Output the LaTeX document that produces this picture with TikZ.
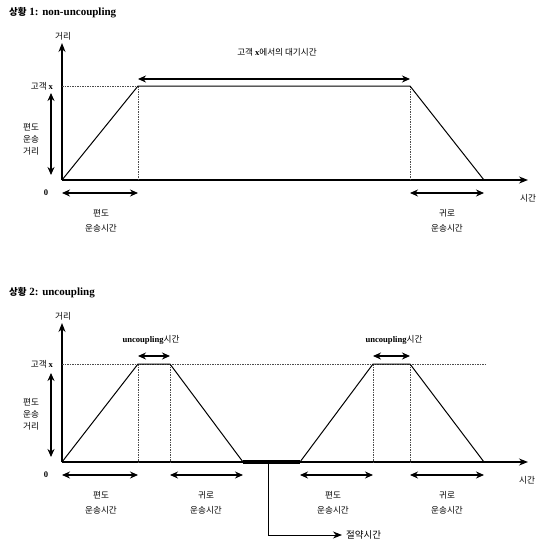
\documentclass[tikz,border=0pt]{standalone}
\usepackage{fontspec}
\setmainfont{Liberation Serif}
\newfontfamily\kr{Noto Sans CJK KR}
\usetikzlibrary{arrows.meta}
\begin{document}
\begin{tikzpicture}[x=1pt,y=-1pt,
  axis/.style={line width=1.3pt,-{Stealth[length=9pt,width=7pt]}},
  curve/.style={line width=1pt},
  guide/.style={line width=0.4pt, black!70, dash pattern=on 1.5pt off 1pt},
  dim/.style={line width=1.1pt,{Stealth[length=8pt,width=7pt]}-{Stealth[length=8pt,width=7pt]}},
  lbl/.style={font=\kr\fontsize{8.6}{12}\selectfont, inner sep=0pt, align=center},
  lbl2/.style={font=\kr\fontsize{8.6}{15}\selectfont, inner sep=0pt, align=center},
  ttl/.style={font=\fontsize{11}{12}\selectfont\bfseries, inner sep=0pt, anchor=west},
  bar/.style={line width=4pt},
  pointer/.style={line width=0.8pt,-{Stealth[length=9pt,width=7pt]}}]
\useasboundingbox (0,0) rectangle (544,544);

% ---------- Chart 1 ----------
\node[ttl] (t1) at (9,13) {{\kr\fontsize{9.5}{12}\selectfont 상황} 1: non-uncoupling};
\coordinate (o1) at (62,180);
\coordinate (ytip1) at (62,43);
\coordinate (xtip1) at (528,180);
\coordinate (p1) at (138,86);
\coordinate (q1) at (410,86);
\coordinate (r1) at (484,180);
\coordinate (yx1) at (62,86);
\coordinate (pb1) at (138,180);
\coordinate (qb1) at (410,180);
\draw[axis] (o1) -- (ytip1);
\draw[axis] (o1) -- (xtip1);
\draw[guide] (yx1) -- (p1);
\draw[guide] (p1) -- (pb1);
\draw[guide] (q1) -- (qb1);
\draw[curve] (o1) -- (p1) -- (q1) -- (r1);
\node[lbl] (d1) at (63,36) {거리};
\node[lbl] (cx1) at (42,86) {고객 {\rmfamily\bfseries x}};
\node[lbl] (z1) at (46,193) {\rmfamily\bfseries 0};
\node[lbl] (tm1) at (528,198) {시간};
\coordinate (wa1) at (138,79);
\coordinate (wb1) at (410,79);
\draw[dim] (wa1) -- (wb1);
\node[lbl] (w1) at (277,52) {고객 {\rmfamily\bfseries x}에서의 대기시간};
\coordinate (la1) at (51,93);
\coordinate (lb1) at (51,175);
\draw[dim] (la1) -- (lb1);
\node[lbl] (ld1) at (31,139) {편도\\운송\\거리};
\coordinate (ba1) at (62,193);
\coordinate (bb1) at (138,193);
\coordinate (bc1) at (410,193);
\coordinate (bd1) at (484,193);
\draw[dim] (ba1) -- (bb1);
\draw[dim] (bc1) -- (bd1);
\node[lbl2] (bl1) at (101,221) {편도\\운송시간};
\node[lbl2] (bl2) at (447,221) {귀로\\운송시간};

% ---------- Chart 2 ----------
\node[ttl] (t2) at (9,293) {{\kr\fontsize{9.5}{12}\selectfont 상황} 2: uncoupling};
\coordinate (o2) at (62,462);
\coordinate (ytip2) at (62,323);
\coordinate (xtip2) at (528,462);
\coordinate (a2) at (138,364);
\coordinate (b2) at (170,364);
\coordinate (c2) at (243,462);
\coordinate (d2) at (300,462);
\coordinate (e2) at (373,364);
\coordinate (f2) at (410,364);
\coordinate (g2) at (484,462);
\coordinate (yx2) at (62,364);
\coordinate (hx2) at (486,364);
\draw[axis] (o2) -- (ytip2);
\draw[axis] (o2) -- (xtip2);
\draw[guide] (yx2) -- (hx2);
\draw[guide] (a2) -- (138,462);
\draw[guide] (b2) -- (170,462);
\draw[guide] (e2) -- (373,462);
\draw[guide] (f2) -- (410,462);
\draw[curve] (o2) -- (a2) -- (b2) -- (c2);
\draw[curve] (d2) -- (e2) -- (f2) -- (g2);
\draw[bar] (c2) -- (d2);
\node[lbl] (dd2) at (63,316) {거리};
\node[lbl] (cx2) at (42,364) {고객 {\rmfamily\bfseries x}};
\node[lbl] (z2) at (46,475) {\rmfamily\bfseries 0};
\node[lbl] (tm2) at (527,480) {시간};
\coordinate (ua1) at (138,356);
\coordinate (ub1) at (170,356);
\coordinate (ua2) at (373,356);
\coordinate (ub2) at (410,356);
\draw[dim] (ua1) -- (ub1);
\draw[dim] (ua2) -- (ub2);
\node[lbl] (u1) at (151,340) {{\rmfamily\bfseries uncoupling}시간};
\node[lbl] (u2) at (394,340) {{\rmfamily\bfseries uncoupling}시간};
\coordinate (la2) at (51,373);
\coordinate (lb2) at (51,457);
\draw[dim] (la2) -- (lb2);
\node[lbl] (ld2) at (31,414) {편도\\운송\\거리};
\coordinate (m1) at (62,475);
\coordinate (m2) at (138,475);
\coordinate (m3) at (170,475);
\coordinate (m4) at (243,475);
\coordinate (m5) at (300,475);
\coordinate (m6) at (373,475);
\coordinate (m7) at (410,475);
\coordinate (m8) at (484,475);
\draw[dim] (m1) -- (m2);
\draw[dim] (m3) -- (m4);
\draw[dim] (m5) -- (m6);
\draw[dim] (m7) -- (m8);
\node[lbl2] (n1) at (101,503) {편도\\운송시간};
\node[lbl2] (n2) at (206,503) {귀로\\운송시간};
\node[lbl2] (n3) at (333,503) {편도\\운송시간};
\node[lbl2] (n4) at (447,503) {귀로\\운송시간};
\coordinate (s0) at (268,462);
\coordinate (s1) at (268,535);
\node[lbl, font=\kr\fontsize{9.5}{10}\selectfont, anchor=west] (sv) at (346,535) {절약시간};
\draw[pointer] (s0) -- (s1) -- ([xshift=-4pt]sv.west);
\end{tikzpicture}
\end{document}
